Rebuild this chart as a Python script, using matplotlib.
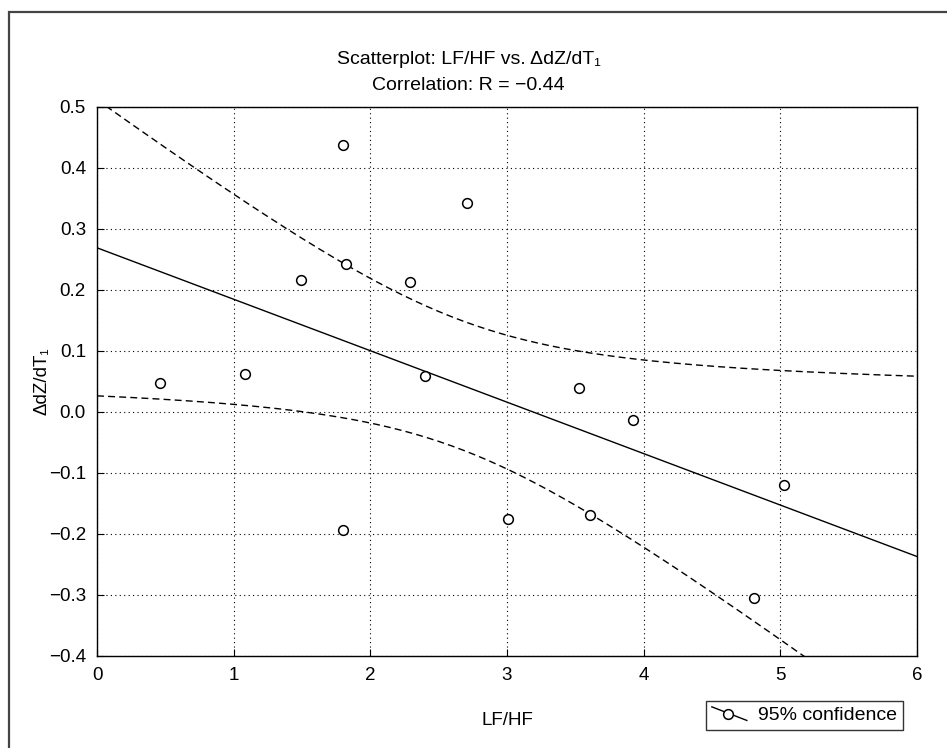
import numpy as np
import matplotlib
matplotlib.use("Agg")
import matplotlib.pyplot as plt
from matplotlib.lines import Line2D
from matplotlib.patches import Rectangle
from matplotlib.legend_handler import HandlerBase

plt.rcParams['font.family'] = ['Liberation Sans Narrow', 'Liberation Sans', 'DejaVu Sans']

# data
lf_hf = [0.46, 1.08, 1.49, 1.80, 1.82, 1.80, 2.29, 2.40, 2.71, 3.01, 3.53, 3.61, 3.92, 4.81, 5.03]
dzdt = [0.047, 0.063, 0.216, 0.437, 0.242, -0.193, 0.213, 0.059, 0.343, -0.175, 0.039, -0.169, -0.013, -0.305, -0.120]
x_ticks = [0, 1, 2, 3, 4, 5, 6]
y_ticks = [-0.4, -0.3, -0.2, -0.1, 0.0, 0.1, 0.2, 0.3, 0.4, 0.5]

x = np.array(lf_hf)
y = np.array(dzdt)

# least squares fit and 95% band for the mean
slope, icpt = np.polyfit(x, y, 1)
n = len(x)
resid = y - (slope * x + icpt)
s = np.sqrt(np.sum(resid ** 2) / (n - 2))
sxx = np.sum((x - x.mean()) ** 2)
t = 2.160  # t(0.975, 13)
xs = np.linspace(0, 6, 200)
fit = slope * xs + icpt
half = t * s * np.sqrt(1.0 / n + (xs - x.mean()) ** 2 / sxx)

fig = plt.figure(figsize=(9.47, 7.48), dpi=100)
ax = fig.add_axes([97 / 947, 1 - 656 / 748, (917 - 97) / 947, (656 - 107) / 748])

ax.plot(xs, fit, color='black', lw=1)
ax.plot(xs, fit + half, color='black', lw=1, ls=(0, (5, 3)))
ax.plot(xs, fit - half, color='black', lw=1, ls=(0, (5, 3)))
ax.plot(x, y, 'o', mfc='white', mec='black', ms=7, mew=1.1, ls='none')

ax.set_xlim(0, 6)
ax.set_ylim(-0.4, 0.5)
ax.set_xticks(x_ticks)
ax.set_yticks(y_ticks)
ax.set_xticklabels([str(v) for v in x_ticks])
ax.set_yticklabels(['%.1f' % v if v >= 0 else '\u2212%.1f' % -v for v in y_ticks])
ax.tick_params(direction='in', length=5, width=0.8, labelsize=13.5, pad=8)
ax.grid(True, color='black', ls=(0, (1, 3)), lw=0.8)
for sp in ax.spines.values():
    sp.set_linewidth(1)

ax.set_xlabel('LF/HF', fontsize=13.5, labelpad=20)
ax.set_ylabel('\u0394dZ/dT\u2081', fontsize=13.5, labelpad=-1)

fig.text(0.495, 1 - 60 / 748, 'Scatterplot: LF/HF vs. \u0394dZ/dT\u2081', ha='center', va='center', fontsize=14)
fig.text(0.495, 1 - 86 / 748, 'Correlation: R = \u22120.44', ha='center', va='center', fontsize=14)


class DiagHandler(HandlerBase):
    def create_artists(self, legend, orig, xd, yd, w, h, fs, trans):
        ln = Line2D([0, w], [h, 0], color='black', lw=1, transform=trans)
        mk = Line2D([w * 0.45], [h * 0.45], marker='o', mfc='white', mec='black',
                    ms=7, mew=1.1, transform=trans)
        return [ln, mk]


handle = Line2D([], [], color='black')
leg = fig.legend([handle], ['95% confidence'], handler_map={Line2D: DiagHandler()},
                 loc='upper left', bbox_to_anchor=(706 / 947, 1 - 701 / 748),
                 fontsize=14, frameon=True, fancybox=False, edgecolor='black',
                 borderpad=0.3, handlelength=1.8, handletextpad=0.6, borderaxespad=0)
leg.get_frame().set_linewidth(1)

fig.add_artist(Rectangle((9 / 947, -0.1), 1.2, 1.1 - 12 / 748, transform=fig.transFigure,
                         fill=False, lw=1.6, ec='#444444'))

fig.savefig('out.png', dpi=100)
